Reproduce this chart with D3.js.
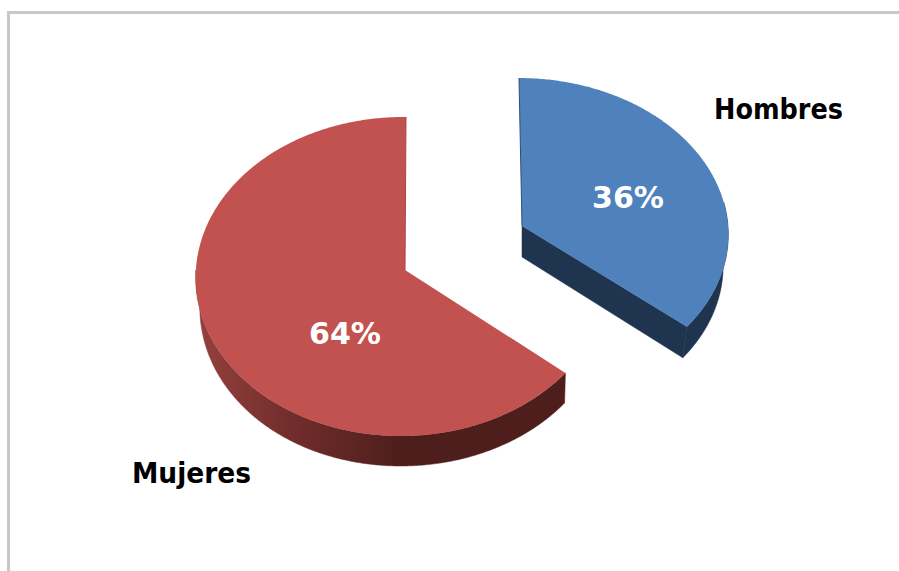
<!DOCTYPE html>
<html><head><meta charset="utf-8">
<script src="https://cdnjs.cloudflare.com/ajax/libs/d3/7.8.5/d3.min.js"></script>
<style>html,body{margin:0;padding:0;background:#fff}svg{display:block}</style>
</head><body><svg id="c" width="899" height="571"></svg>
<script>
const categories = ["Hombres", "Mujeres"];
const seriesValues = [36, 64];
const percentLabels = ["36%", "64%"];

const svg = d3.select("#c");
const W = 899, H = 571;
svg.append("path").attr("d", `M8.5 ${H}V12.5H${W}`).attr("fill", "none").attr("stroke", "#c8c8c8").attr("stroke-width", 3);

const defs = svg.append("defs");
const grad = defs.append("linearGradient").attr("id", "redWall").attr("gradientUnits", "userSpaceOnUse")
  .attr("x1", 200).attr("x2", 400).attr("y1", 0).attr("y2", 0);
grad.append("stop").attr("offset", 0).attr("stop-color", "#93403d");
grad.append("stop").attr("offset", 0.5).attr("stop-color", "#6e2c2a");
grad.append("stop").attr("offset", 1).attr("stop-color", "#4e1e1c");

const slices = d3.pie().sort(null).value(d => d)(seriesValues);

// how each slice sits on the page (exploded, tilted, with slight perspective)
const views = [
  {cx: 522, cy: 226, R: 206, K: 154, p: 0.0408, q: 0, skew: -3, top: "#4f81bd", wall: "#1f344f", cut: "#1f344f", edge: "#2f4d73", insetL: 1, insetR: 0.975, depth: 31},
  {cx: 405, cy: 270, R: 206, K: 159.2, p: 0.0408, q: 0.015, skew: 1, top: "#c2524f", wall: "url(#redWall)", cut: null, edge: "#a84643", insetL: 0.98, insetR: 0.995, depth: 30}
];

function project(v, a, low = false) {
  const u = Math.sin(a), t = Math.cos(a);
  const w = 1 + v.p * t + v.q * u;
  const scale = low ? (u < 0 ? 1 + (v.insetL - 1) * (-u) : v.insetR) : 1;
  return [v.cx + scale * (v.R * u / w) + v.skew * t, v.cy + (low ? v.depth : 0) - v.K * t / w];
}
const line = d3.line();
function arcPts(v, a0, a1, low) {
  const n = Math.max(2, Math.ceil(Math.abs(a1 - a0) / 0.01));
  return d3.range(n + 1).map(i => project(v, a0 + (a1 - a0) * i / n, low));
}

slices.forEach((s, i) => {
  const v = views[i];
  const g = svg.append("g");
  const apex = [v.cx, v.cy];
  // outer wall: only the part that faces the viewer
  const from = i === 1 ? s.startAngle : Math.PI * 0.45;
  const to = i === 1 ? Math.PI * 1.5 : s.endAngle;
  const rim = arcPts(v, from, to, false);
  const low = arcPts(v, from, to, true).reverse();
  g.append("path").attr("d", line(rim.concat(low)) + "Z").attr("fill", v.wall)
    .attr("stroke", v.wall).attr("stroke-width", 0.5);
  // cut face toward the viewer
  if (v.cut) {
    const e = project(v, s.endAngle), e2 = project(v, s.endAngle, true);
    g.append("path").attr("d", line([apex, e, e2, [v.cx, v.cy + v.depth]]) + "Z")
      .attr("fill", v.cut).attr("stroke", v.cut).attr("stroke-width", 0.5);
  }
  // top face
  const top = [apex].concat(arcPts(v, s.startAngle, s.endAngle, false));
  g.append("path").attr("d", line(top) + "Z").attr("fill", v.top);
  // thin edge on the upright cut
  g.append("path").attr("d", line([apex, project(v, 0)]))
    .attr("stroke", v.edge).attr("stroke-width", 1).attr("fill", "none");
});

function label(x, y, t, fill, size, width) {
  svg.append("text").attr("x", x).attr("y", y)
    .attr("font-family", "'DejaVu Sans'").attr("font-weight", "bold").attr("font-size", size)
    .attr("textLength", width).attr("lengthAdjust", "spacingAndGlyphs")
    .attr("fill", fill).text(t);
}
label(592, 208, percentLabels[0], "#fff", 30, 72);
label(309, 344, percentLabels[1], "#fff", 30, 72);
label(714, 119, categories[0], "#000", 29, 129);
label(132, 483, categories[1], "#000", 29, 119);
</script></body></html>
